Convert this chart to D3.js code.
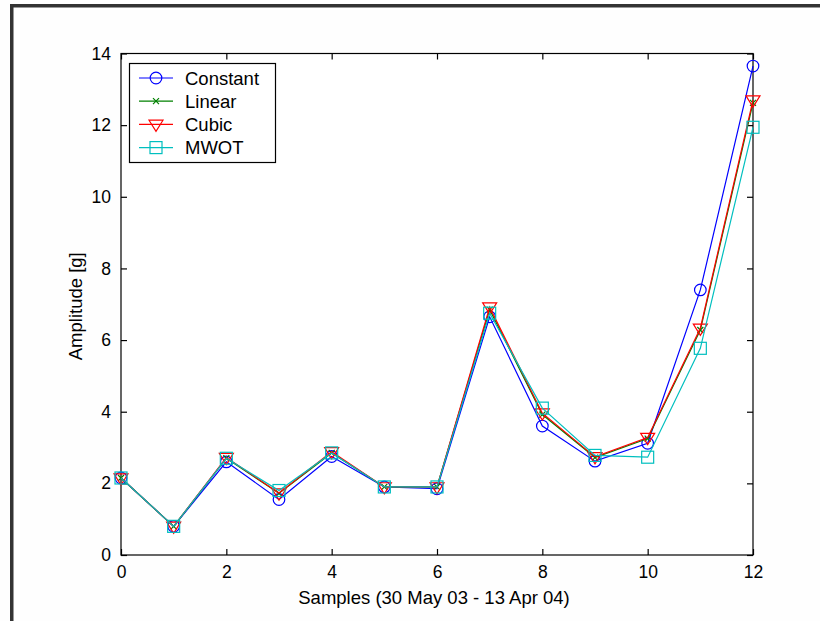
<!DOCTYPE html>
<html><head><meta charset="utf-8">
<script src="https://cdn.jsdelivr.net/npm/d3@7"></script>
<style>body{margin:0;background:#fff}svg{display:block}</style>
</head><body>
<script>
const samples = [0,1,2,3,4,5,6,7,8,9,10,11,12];
const constantVals = [2.15,0.8,2.6,1.55,2.75,1.9,1.85,6.65,3.6,2.62,3.12,7.4,13.65];
const linearVals   = [2.15,0.8,2.7,1.72,2.85,1.9,1.9,6.85,3.92,2.72,3.25,6.28,12.62];
const cubicVals    = [2.15,0.8,2.72,1.73,2.88,1.9,1.9,6.92,3.96,2.74,3.28,6.33,12.7];
const mwotVals     = [2.15,0.8,2.7,1.8,2.85,1.9,1.9,6.75,4.1,2.78,2.73,5.77,11.94];
const seriesNames = ["Constant","Linear","Cubic","MWOT"];
const xTicks = [0,2,4,6,8,10,12];
const yTicks = [0,2,4,6,8,10,12,14];
const xLabel = "Samples (30 May 03 - 13 Apr 04)";
const yLabel = "Amplitude [g]";

const W=820,H=621;
const svg=d3.select("body").append("svg").attr("width",W).attr("height",H);
svg.append("rect").attr("width",W).attr("height",H).attr("fill","#fefefe");
// figure border
svg.append("rect").attr("x",10).attr("y",4).attr("width",W-10).attr("height",3.5).attr("fill","#333");
svg.append("rect").attr("x",10).attr("y",4).attr("width",3.5).attr("height",H-4).attr("fill","#333");

const L=121,R=753,T=53.5,B=555;
const x=d3.scaleLinear().domain([0,12]).range([L,R]);
const y=d3.scaleLinear().domain([0,14]).range([B,T]);
const font="Liberation Sans, Arial, sans-serif";

// frame
svg.append("rect").attr("x",L).attr("y",T).attr("width",R-L).attr("height",B-T)
  .attr("fill","#fff").attr("stroke","#000").attr("stroke-width",1.2);

const tl=6;
const axB=svg.append("g").attr("transform",`translate(0,${B})`)
  .call(d3.axisBottom(x).tickValues(xTicks).tickSize(-tl).tickPadding(tl+5).tickFormat(d3.format("d")));
const axT=svg.append("g").attr("transform",`translate(0,${T})`)
  .call(d3.axisTop(x).tickValues(xTicks).tickSize(-tl).tickFormat(""));
const axL=svg.append("g").attr("transform",`translate(${L},0)`)
  .call(d3.axisLeft(y).tickValues(yTicks).tickSize(-tl).tickPadding(tl+4).tickFormat(d3.format("d")));
const axR=svg.append("g").attr("transform",`translate(${R},0)`)
  .call(d3.axisRight(y).tickValues(yTicks).tickSize(-tl).tickFormat(""));
[axB,axT,axL,axR].forEach(a=>{
  a.select(".domain").remove();
  a.selectAll("line").attr("stroke","#000").attr("stroke-width",1.2);
  a.selectAll("text").attr("font-family",font).attr("font-size",17.5).attr("fill","#000");
});

svg.append("text").attr("x",434).attr("y",604).attr("text-anchor","middle")
  .attr("font-family",font).attr("font-size",18.5).text(xLabel);
svg.append("text").attr("transform",`translate(82,${(T+B)/2 + 2}) rotate(-90)`).attr("text-anchor","middle")
  .attr("font-family",font).attr("font-size",18.5).text(yLabel);

const series=[
  {name:seriesNames[0],vals:constantVals,color:"#0000ff",marker:"circle"},
  {name:seriesNames[1],vals:linearVals,color:"#008000",marker:"x"},
  {name:seriesNames[2],vals:cubicVals,color:"#ff0000",marker:"tri"},
  {name:seriesNames[3],vals:mwotVals,color:"#00bfbf",marker:"square"}
];

function drawMarker(g,type,cx,cy,color){
  if(type==="circle"){
    g.append("circle").attr("cx",cx).attr("cy",cy).attr("r",5.8).attr("fill","none").attr("stroke",color).attr("stroke-width",1.2);
  } else if(type==="x"){
    const s=3;
    g.append("path").attr("d",`M${cx-s},${cy-s}L${cx+s},${cy+s}M${cx-s},${cy+s}L${cx+s},${cy-s}`).attr("stroke",color).attr("stroke-width",1.2).attr("fill","none");
  } else if(type==="tri"){
    const s=7;
    g.append("path").attr("d",`M${cx-s},${cy-s*0.6}L${cx+s},${cy-s*0.6}L${cx},${cy+s}Z`).attr("fill","none").attr("stroke",color).attr("stroke-width",1.2);
  } else {
    const s=6;
    g.append("rect").attr("x",cx-s).attr("y",cy-s).attr("width",2*s).attr("height",2*s).attr("fill","none").attr("stroke",color).attr("stroke-width",1.2);
  }
}

const line=d3.line().x((d,i)=>x(samples[i])).y(d=>y(d));
series.forEach(s=>{
  const g=svg.append("g");
  g.append("path").attr("d",line(s.vals)).attr("fill","none").attr("stroke",s.color).attr("stroke-width",1.2);
  s.vals.forEach((v,i)=>drawMarker(g,s.marker,x(samples[i]),y(v),s.color));
});

// legend
const lg=svg.append("g");
lg.append("rect").attr("x",129.5).attr("y",63.5).attr("width",146).attr("height",99)
  .attr("fill","#fff").attr("stroke","#000").attr("stroke-width",1.2);
series.forEach((s,i)=>{
  const cy=78+i*23.2;
  lg.append("line").attr("x1",139).attr("x2",173).attr("y1",cy).attr("y2",cy).attr("stroke",s.color).attr("stroke-width",1.2);
  drawMarker(lg,s.marker,156,cy,s.color);
  lg.append("text").attr("x",185).attr("y",cy+6.5).attr("font-family",font).attr("font-size",18.5).text(s.name);
});
</script>
</body></html>
